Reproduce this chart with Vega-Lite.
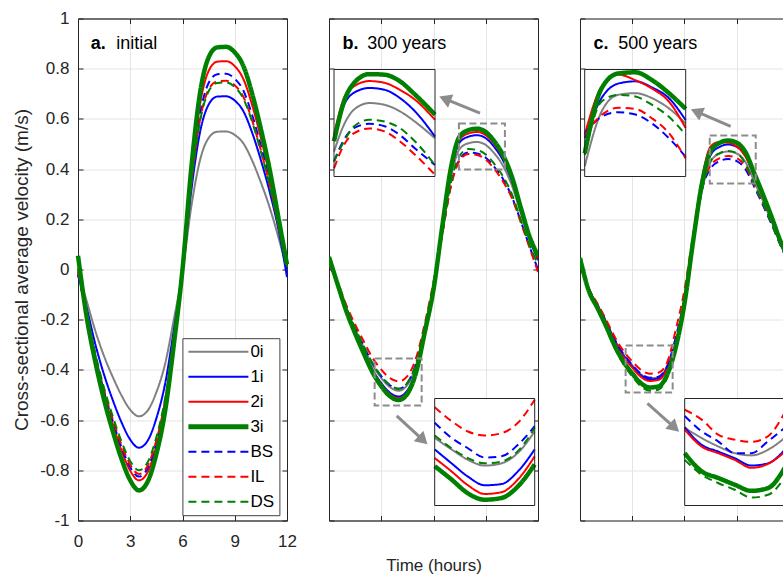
{
"$schema":"https://vega.github.io/schema/vega-lite/v6.json",
"background":"white",
"padding":{"left":12,"top":8.5,"right":0,"bottom":0},
"datasets":{
"curves":[
{"p":"a","t":0,"0i":-0.01,"1i":-0.02,"2i":0.005,"3i":0.055,"BS":-0.02,"IL":-0.01,"DS":0},
{"p":"a","t":0.5,"0i":-0.126,"1i":-0.153,"2i":-0.181,"3i":-0.19,"BS":-0.178,"IL":-0.176,"DS":-0.173},
{"p":"a","t":1,"0i":-0.246,"1i":-0.299,"2i":-0.353,"3i":-0.37,"BS":-0.347,"IL":-0.343,"DS":-0.336},
{"p":"a","t":1.5,"0i":-0.346,"1i":-0.42,"2i":-0.497,"3i":-0.52,"BS":-0.488,"IL":-0.482,"DS":-0.473},
{"p":"a","t":2,"0i":-0.429,"1i":-0.521,"2i":-0.616,"3i":-0.645,"BS":-0.605,"IL":-0.597,"DS":-0.586},
{"p":"a","t":2.5,"0i":-0.502,"1i":-0.609,"2i":-0.721,"3i":-0.755,"BS":-0.708,"IL":-0.699,"DS":-0.686},
{"p":"a","t":3,"0i":-0.559,"1i":-0.678,"2i":-0.802,"3i":-0.84,"BS":-0.788,"IL":-0.778,"DS":-0.764},
{"p":"a","t":3.5,"0i":-0.585,"1i":-0.71,"2i":-0.84,"3i":-0.88,"BS":-0.825,"IL":-0.815,"DS":-0.8},
{"p":"a","t":4,"0i":-0.562,"1i":-0.682,"2i":-0.807,"3i":-0.845,"BS":-0.792,"IL":-0.782,"DS":-0.768},
{"p":"a","t":4.5,"0i":-0.489,"1i":-0.593,"2i":-0.702,"3i":-0.735,"BS":-0.689,"IL":-0.681,"DS":-0.668},
{"p":"a","t":5,"0i":-0.376,"1i":-0.456,"2i":-0.54,"3i":-0.565,"BS":-0.53,"IL":-0.523,"DS":-0.514},
{"p":"a","t":5.5,"0i":-0.2,"1i":-0.242,"2i":-0.287,"3i":-0.3,"BS":-0.281,"IL":-0.278,"DS":-0.273},
{"p":"a","t":6,"0i":-0.01,"1i":-0.01,"2i":0,"3i":0,"BS":0,"IL":0,"DS":0},
{"p":"a","t":6.5,"0i":0.248,"1i":0.311,"2i":0.374,"3i":0.4,"BS":0.352,"IL":0.339,"DS":0.336},
{"p":"a","t":7,"0i":0.434,"1i":0.545,"2i":0.655,"3i":0.7,"BS":0.615,"IL":0.594,"DS":0.588},
{"p":"a","t":7.5,"0i":0.524,"1i":0.657,"2i":0.791,"3i":0.845,"BS":0.743,"IL":0.717,"DS":0.71},
{"p":"a","t":8,"0i":0.549,"1i":0.689,"2i":0.828,"3i":0.885,"BS":0.778,"IL":0.75,"DS":0.743},
{"p":"a","t":8.5,"0i":0.55,"1i":0.69,"2i":0.83,"3i":0.887,"BS":0.78,"IL":0.752,"DS":0.745},
{"p":"a","t":9,"0i":0.536,"1i":0.673,"2i":0.81,"3i":0.865,"BS":0.76,"IL":0.734,"DS":0.727},
{"p":"a","t":9.5,"0i":0.502,"1i":0.63,"2i":0.758,"3i":0.81,"BS":0.712,"IL":0.687,"DS":0.68},
{"p":"a","t":10,"0i":0.434,"1i":0.545,"2i":0.655,"3i":0.7,"BS":0.615,"IL":0.594,"DS":0.588},
{"p":"a","t":10.5,"0i":0.347,"1i":0.436,"2i":0.524,"3i":0.56,"BS":0.492,"IL":0.475,"DS":0.47},
{"p":"a","t":11,"0i":0.248,"1i":0.311,"2i":0.374,"3i":0.4,"BS":0.352,"IL":0.339,"DS":0.336},
{"p":"a","t":11.5,"0i":0.13,"1i":0.163,"2i":0.197,"3i":0.21,"BS":0.185,"IL":0.178,"DS":0.176},
{"p":"a","t":12,"0i":0,"1i":-0.03,"2i":0.02,"3i":0.02,"BS":0,"IL":0.01,"DS":0.01},
{"p":"b","t":0,"0i":0.03,"1i":0.03,"2i":0.04,"3i":0.05,"BS":0.02,"IL":0.02,"DS":0.03},
{"p":"b","t":0.5,"0i":-0.056,"1i":-0.058,"2i":-0.059,"3i":-0.06,"BS":-0.055,"IL":-0.051,"DS":-0.055},
{"p":"b","t":1,"0i":-0.155,"1i":-0.162,"2i":-0.164,"3i":-0.167,"BS":-0.152,"IL":-0.143,"DS":-0.152},
{"p":"b","t":1.5,"0i":-0.237,"1i":-0.248,"2i":-0.251,"3i":-0.255,"BS":-0.233,"IL":-0.219,"DS":-0.233},
{"p":"b","t":2,"0i":-0.311,"1i":-0.326,"2i":-0.33,"3i":-0.335,"BS":-0.306,"IL":-0.287,"DS":-0.306},
{"p":"b","t":2.5,"0i":-0.381,"1i":-0.399,"2i":-0.404,"3i":-0.41,"BS":-0.374,"IL":-0.352,"DS":-0.374},
{"p":"b","t":3,"0i":-0.432,"1i":-0.452,"2i":-0.458,"3i":-0.465,"BS":-0.425,"IL":-0.399,"DS":-0.425},
{"p":"b","t":3.5,"0i":-0.469,"1i":-0.491,"2i":-0.497,"3i":-0.505,"BS":-0.461,"IL":-0.433,"DS":-0.461},
{"p":"b","t":4,"0i":-0.483,"1i":-0.506,"2i":-0.512,"3i":-0.52,"BS":-0.475,"IL":-0.446,"DS":-0.475},
{"p":"b","t":4.5,"0i":-0.46,"1i":-0.482,"2i":-0.488,"3i":-0.495,"BS":-0.452,"IL":-0.425,"DS":-0.452},
{"p":"b","t":5,"0i":-0.381,"1i":-0.399,"2i":-0.404,"3i":-0.41,"BS":-0.374,"IL":-0.352,"DS":-0.374},
{"p":"b","t":5.5,"0i":-0.232,"1i":-0.243,"2i":-0.246,"3i":-0.25,"BS":-0.228,"IL":-0.215,"DS":-0.228},
{"p":"b","t":6,"0i":-0.074,"1i":-0.078,"2i":-0.079,"3i":-0.08,"BS":-0.06,"IL":-0.05,"DS":-0.06},
{"p":"b","t":6.5,"0i":0.154,"1i":0.162,"2i":0.166,"3i":0.17,"BS":0.141,"IL":0.139,"DS":0.145},
{"p":"b","t":7,"0i":0.367,"1i":0.386,"2i":0.396,"3i":0.405,"BS":0.336,"IL":0.331,"DS":0.346},
{"p":"b","t":7.5,"0i":0.48,"1i":0.506,"2i":0.518,"3i":0.53,"BS":0.439,"IL":0.434,"DS":0.453},
{"p":"b","t":8,"0i":0.503,"1i":0.529,"2i":0.542,"3i":0.555,"BS":0.466,"IL":0.46,"DS":0.48},
{"p":"b","t":8.5,"0i":0.508,"1i":0.535,"2i":0.548,"3i":0.561,"BS":0.462,"IL":0.456,"DS":0.476},
{"p":"b","t":9,"0i":0.496,"1i":0.523,"2i":0.535,"3i":0.548,"BS":0.445,"IL":0.438,"DS":0.458},
{"p":"b","t":9.5,"0i":0.462,"1i":0.487,"2i":0.498,"3i":0.51,"BS":0.408,"IL":0.4,"DS":0.42},
{"p":"b","t":10,"0i":0.412,"1i":0.434,"2i":0.445,"3i":0.455,"BS":0.36,"IL":0.35,"DS":0.37},
{"p":"b","t":10.5,"0i":0.335,"1i":0.353,"2i":0.361,"3i":0.37,"BS":0.29,"IL":0.285,"DS":0.3},
{"p":"b","t":11,"0i":0.227,"1i":0.239,"2i":0.244,"3i":0.25,"BS":0.195,"IL":0.19,"DS":0.2},
{"p":"b","t":11.5,"0i":0.122,"1i":0.129,"2i":0.132,"3i":0.135,"BS":0.095,"IL":0.09,"DS":0.1},
{"p":"b","t":12,"0i":0.035,"1i":0.04,"2i":0.045,"3i":0.055,"BS":0,"IL":-0.01,"DS":0.02},
{"p":"c","t":0,"0i":0.02,"1i":0.02,"2i":0.03,"3i":0.046,"BS":0.02,"IL":0.03,"DS":0.03},
{"p":"c","t":0.5,"0i":-0.077,"1i":-0.078,"2i":-0.079,"3i":-0.084,"BS":-0.077,"IL":-0.074,"DS":-0.086},
{"p":"c","t":1,"0i":-0.141,"1i":-0.143,"2i":-0.145,"3i":-0.153,"BS":-0.14,"IL":-0.135,"DS":-0.157},
{"p":"c","t":1.5,"0i":-0.208,"1i":-0.211,"2i":-0.214,"3i":-0.226,"BS":-0.207,"IL":-0.2,"DS":-0.232},
{"p":"c","t":2,"0i":-0.281,"1i":-0.284,"2i":-0.288,"3i":-0.305,"BS":-0.28,"IL":-0.269,"DS":-0.314},
{"p":"c","t":2.5,"0i":-0.339,"1i":-0.343,"2i":-0.348,"3i":-0.368,"BS":-0.337,"IL":-0.325,"DS":-0.378},
{"p":"c","t":3,"0i":-0.382,"1i":-0.386,"2i":-0.391,"3i":-0.414,"BS":-0.38,"IL":-0.366,"DS":-0.426},
{"p":"c","t":3.5,"0i":-0.418,"1i":-0.422,"2i":-0.428,"3i":-0.453,"BS":-0.415,"IL":-0.4,"DS":-0.466},
{"p":"c","t":4,"0i":-0.433,"1i":-0.438,"2i":-0.444,"3i":-0.47,"BS":-0.431,"IL":-0.415,"DS":-0.483},
{"p":"c","t":4.5,"0i":-0.43,"1i":-0.434,"2i":-0.44,"3i":-0.466,"BS":-0.427,"IL":-0.411,"DS":-0.479},
{"p":"c","t":5,"0i":-0.387,"1i":-0.391,"2i":-0.397,"3i":-0.42,"BS":-0.385,"IL":-0.371,"DS":-0.432},
{"p":"c","t":5.5,"0i":-0.286,"1i":-0.289,"2i":-0.293,"3i":-0.31,"BS":-0.27,"IL":-0.24,"DS":-0.319},
{"p":"c","t":6,"0i":-0.124,"1i":-0.126,"2i":-0.128,"3i":-0.135,"BS":-0.11,"IL":-0.08,"DS":-0.139},
{"p":"c","t":6.5,"0i":0.105,"1i":0.111,"2i":0.135,"3i":0.115,"BS":0.13,"IL":0.14,"DS":0.106},
{"p":"c","t":7,"0i":0.313,"1i":0.331,"2i":0.36,"3i":0.342,"BS":0.32,"IL":0.33,"DS":0.314},
{"p":"c","t":7.5,"0i":0.43,"1i":0.456,"2i":0.49,"3i":0.471,"BS":0.403,"IL":0.414,"DS":0.432},
{"p":"c","t":8,"0i":0.461,"1i":0.488,"2i":0.508,"3i":0.504,"BS":0.431,"IL":0.443,"DS":0.463},
{"p":"c","t":8.5,"0i":0.47,"1i":0.498,"2i":0.505,"3i":0.514,"BS":0.44,"IL":0.452,"DS":0.472},
{"p":"c","t":9,"0i":0.462,"1i":0.489,"2i":0.49,"3i":0.505,"BS":0.432,"IL":0.444,"DS":0.464},
{"p":"c","t":9.5,"0i":0.428,"1i":0.453,"2i":0.45,"3i":0.468,"BS":0.4,"IL":0.411,"DS":0.42},
{"p":"c","t":10,"0i":0.352,"1i":0.373,"2i":0.375,"3i":0.385,"BS":0.33,"IL":0.338,"DS":0.34},
{"p":"c","t":10.5,"0i":0.274,"1i":0.291,"2i":0.29,"3i":0.3,"BS":0.257,"IL":0.264,"DS":0.265},
{"p":"c","t":11,"0i":0.192,"1i":0.203,"2i":0.205,"3i":0.21,"BS":0.18,"IL":0.185,"DS":0.185},
{"p":"c","t":11.5,"0i":0.105,"1i":0.111,"2i":0.11,"3i":0.115,"BS":0.098,"IL":0.101,"DS":0.1},
{"p":"c","t":12,"0i":0.03,"1i":0.035,"2i":0.03,"3i":0.04,"BS":0.02,"IL":0.025,"DS":0.03}
],
"insets":[
{"i":"bU","t":7.5,"0i":0.443,"1i":0.466,"2i":0.472,"3i":0.461,"BS":0.426,"IL":0.414,"DS":0.426},
{"i":"bU","t":7.75,"0i":0.49,"1i":0.524,"2i":0.536,"3i":0.53,"BS":0.464,"IL":0.455,"DS":0.461},
{"i":"bU","t":8,"0i":0.516,"1i":0.545,"2i":0.556,"3i":0.562,"BS":0.484,"IL":0.475,"DS":0.487},
{"i":"bU","t":8.375,"0i":0.527,"1i":0.553,"2i":0.565,"3i":0.577,"BS":0.491,"IL":0.483,"DS":0.498},
{"i":"bU","t":8.75,"0i":0.524,"1i":0.55,"2i":0.562,"3i":0.576,"BS":0.487,"IL":0.478,"DS":0.495},
{"i":"bU","t":9.125,"0i":0.513,"1i":0.536,"2i":0.55,"3i":0.565,"BS":0.472,"IL":0.461,"DS":0.484},
{"i":"bU","t":9.5,"0i":0.495,"1i":0.513,"2i":0.533,"3i":0.542,"BS":0.449,"IL":0.438,"DS":0.461},
{"i":"bU","t":10,"0i":0.466,"1i":0.469,"2i":0.498,"3i":0.507,"BS":0.42,"IL":0.403,"DS":0.42},
{"i":"bL","t":2.6,"0i":-0.423,"1i":-0.443,"2i":-0.458,"3i":-0.472,"BS":-0.397,"IL":-0.37,"DS":-0.419},
{"i":"bL","t":3.07,"0i":-0.443,"1i":-0.467,"2i":-0.481,"3i":-0.495,"BS":-0.423,"IL":-0.394,"DS":-0.441},
{"i":"bL","t":3.53,"0i":-0.461,"1i":-0.49,"2i":-0.505,"3i":-0.519,"BS":-0.441,"IL":-0.412,"DS":-0.458},
{"i":"bL","t":4,"0i":-0.471,"1i":-0.505,"2i":-0.52,"3i":-0.53,"BS":-0.457,"IL":-0.419,"DS":-0.467},
{"i":"bL","t":4.47,"0i":-0.467,"1i":-0.503,"2i":-0.517,"3i":-0.527,"BS":-0.455,"IL":-0.415,"DS":-0.464},
{"i":"bL","t":4.93,"0i":-0.449,"1i":-0.481,"2i":-0.495,"3i":-0.507,"BS":-0.435,"IL":-0.397,"DS":-0.446},
{"i":"bL","t":5.4,"0i":-0.412,"1i":-0.443,"2i":-0.455,"3i":-0.469,"BS":-0.403,"IL":-0.357,"DS":-0.406},
{"i":"cU","t":7.45,"0i":0.363,"1i":0.413,"2i":0.419,"3i":0.386,"BS":0.422,"IL":0.419,"DS":0.383},
{"i":"cU","t":7.89,"0i":0.46,"1i":0.484,"2i":0.504,"3i":0.501,"BS":0.451,"IL":0.454,"DS":0.478},
{"i":"cU","t":8.33,"0i":0.49,"1i":0.51,"2i":0.526,"3i":0.528,"BS":0.459,"IL":0.467,"DS":0.49},
{"i":"cU","t":8.78,"0i":0.493,"1i":0.514,"2i":0.516,"3i":0.53,"BS":0.455,"IL":0.465,"DS":0.487},
{"i":"cU","t":9.22,"0i":0.484,"1i":0.503,"2i":0.501,"3i":0.516,"BS":0.439,"IL":0.448,"DS":0.472},
{"i":"cU","t":9.66,"0i":0.466,"1i":0.484,"2i":0.478,"3i":0.493,"BS":0.413,"IL":0.422,"DS":0.451},
{"i":"cU","t":10.1,"0i":0.439,"1i":0.445,"2i":0.431,"3i":0.465,"BS":0.38,"IL":0.377,"DS":0.419},
{"i":"cL","t":2.6,"0i":-0.352,"1i":-0.351,"2i":-0.355,"3i":-0.397,"BS":-0.331,"IL":-0.32,"DS":-0.409},
{"i":"cL","t":3.05,"0i":-0.37,"1i":-0.382,"2i":-0.385,"3i":-0.429,"BS":-0.358,"IL":-0.337,"DS":-0.435},
{"i":"cL","t":3.5,"0i":-0.385,"1i":-0.394,"2i":-0.397,"3i":-0.441,"BS":-0.376,"IL":-0.364,"DS":-0.45},
{"i":"cL","t":3.95,"0i":-0.397,"1i":-0.406,"2i":-0.409,"3i":-0.453,"BS":-0.397,"IL":-0.373,"DS":-0.462},
{"i":"cL","t":4.4,"0i":-0.401,"1i":-0.419,"2i":-0.423,"3i":-0.464,"BS":-0.397,"IL":-0.377,"DS":-0.476},
{"i":"cL","t":4.85,"0i":-0.391,"1i":-0.415,"2i":-0.416,"3i":-0.459,"BS":-0.376,"IL":-0.367,"DS":-0.471},
{"i":"cL","t":5.3,"0i":-0.37,"1i":-0.391,"2i":-0.395,"3i":-0.423,"BS":-0.352,"IL":-0.325,"DS":-0.441}
]
},
"spacing":42,
"bounds":"flush",
"resolve":{"scale":{"color":"independent","strokeDash":"independent"},"legend":{"color":"independent","strokeDash":"independent"}},
"hconcat":[
{
 "width":209,"height":502,
 "resolve":{"axis":{"x":"independent","y":"independent"}},
 "layer":[
  {"data":{"name":"curves"},"transform":[{"filter":"datum.p==='a'"},{"fold":["0i","1i","2i","BS","IL","DS","3i"],"as":["s","v"]}],
   "mark":{"type":"line","interpolate":"monotone"},
   "encoding":{
    "x":{"field":"t","type":"quantitative","scale":{"domain":[0,12],"nice":false,"zero":false},"axis":{"values":[0,3,6,9,12],"title":null,"grid":true}},
    "y":{"field":"v","type":"quantitative","scale":{"domain":[-1,1],"nice":false,"zero":false},"axis":{"values":[-1,-0.8,-0.6,-0.4,-0.2,0,0.2,0.4,0.6,0.8,1],"labelExpr":"toString(round(datum.value*10)/10)","title":"Cross-sectional average velocity (m/s)","titleFontSize":19,"grid":true}},
    "color":{"field":"s","type":"nominal","scale":{"domain":["0i","1i","2i","3i","BS","IL","DS"],"range":["#808080","#0000ff","#ff0000","#008000","#0000ff","#ff0000","#008000"]},
      "legend":{"title":null,"orient":"none","legendX":104.4,"legendY":319.7,"symbolType":"stroke","symbolSize":3600,"clipHeight":17,"rowPadding":7,"padding":5,"labelOffset":1,"labelFontSize":17,"labelColor":"#000000","fillColor":"#ffffff","strokeColor":"#404040","symbolStrokeWidth":{"expr":"(datum.value === '3i' ? 5 : 2)"}}},
    "strokeDash":{"field":"s","type":"nominal","scale":{"domain":["0i","1i","2i","3i","BS","IL","DS"],"range":[[1,0],[1,0],[1,0],[1,0],[8,5],[8,5],[8,5]]},
      "legend":{"title":null,"orient":"none","legendX":104.4,"legendY":319.7,"symbolType":"stroke","symbolSize":3600,"clipHeight":17,"rowPadding":7,"padding":5,"labelOffset":1,"labelFontSize":17,"labelColor":"#000000","fillColor":"#ffffff","strokeColor":"#404040","symbolStrokeWidth":{"expr":"(datum.value === '3i' ? 5 : 2)"}}},
    "strokeWidth":{"condition":{"test":"datum.s==='3i'","value":4.5},"value":2}
   }},
  {"data":{"values":[{}]},"mark":{"type":"text","text":"a.","fontWeight":"bold","fontSize":18,"align":"left","baseline":"alphabetic","color":"#000000"},
   "encoding":{"x":{"datum":0.73,"type":"quantitative","scale":{"domain":[0,12],"nice":false,"zero":false},"axis":{"orient":"top","values":[0,3,6,9,12],"labels":false,"grid":false,"title":null}},
               "y":{"datum":0.8765,"type":"quantitative","scale":{"domain":[-1,1],"nice":false,"zero":false},"axis":{"orient":"right","values":[-1,-0.8,-0.6,-0.4,-0.2,0,0.2,0.4,0.6,0.8,1],"labels":false,"grid":false,"title":null}}}},
  {"data":{"values":[{}]},"mark":{"type":"text","text":"initial","fontSize":18,"align":"left","baseline":"alphabetic","color":"#000000"},
   "encoding":{"x":{"datum":2.2,"type":"quantitative","scale":{"domain":[0,12],"nice":false,"zero":false},"axis":null},
               "y":{"datum":0.8765,"type":"quantitative","scale":{"domain":[-1,1],"nice":false,"zero":false},"axis":null}}}
 ]
},
{
 "width":209,"height":502,
 "resolve":{"scale":{"x":"independent","y":"independent"}},
 "layer":[
  {
   "resolve":{"axis":{"x":"independent","y":"independent"}},
   "layer":[
    {"data":{"name":"curves"},"transform":[{"filter":"datum.p==='b'"},{"fold":["0i","1i","2i","BS","IL","DS","3i"],"as":["s","v"]}],
     "mark":{"type":"line","interpolate":"monotone","clip":true},
     "encoding":{
      "x":{"field":"t","type":"quantitative","scale":{"domain":[0,12],"nice":false,"zero":false},"axis":{"values":[0,3,6,9,12],"labels":false,"title":"Time (hours)","grid":true}},
      "y":{"field":"v","type":"quantitative","scale":{"domain":[-1,1],"nice":false,"zero":false},"axis":{"values":[-1,-0.8,-0.6,-0.4,-0.2,0,0.2,0.4,0.6,0.8,1],"labels":false,"title":null,"grid":true}},
      "color":{"field":"s","type":"nominal","scale":{"domain":["0i","1i","2i","3i","BS","IL","DS"],"range":["#808080","#0000ff","#ff0000","#008000","#0000ff","#ff0000","#008000"]},"legend":null},
      "strokeDash":{"field":"s","type":"nominal","scale":{"domain":["0i","1i","2i","3i","BS","IL","DS"],"range":[[1,0],[1,0],[1,0],[1,0],[8,5],[8,5],[8,5]]},"legend":null},
      "strokeWidth":{"condition":{"test":"datum.s==='3i'","value":4.5},"value":2}
     }},
    {"data":{"values":[{}]},"mark":{"type":"rect","filled":false,"color":"#8c8c8c","strokeWidth":2,"strokeDash":[7,3.5]},
     "encoding":{"x":{"datum":7.46,"type":"quantitative","scale":{"domain":[0,12],"nice":false,"zero":false},"axis":null},"x2":{"datum":10.1},
                 "y":{"datum":0.398,"type":"quantitative","scale":{"domain":[-1,1],"nice":false,"zero":false},"axis":null},"y2":{"datum":0.582}}},
    {"data":{"values":[{}]},"mark":{"type":"rect","filled":false,"color":"#8c8c8c","strokeWidth":2,"strokeDash":[7,3.5]},
     "encoding":{"x":{"datum":2.62,"type":"quantitative","scale":{"domain":[0,12],"nice":false,"zero":false},"axis":null},"x2":{"datum":5.32},
                 "y":{"datum":-0.542,"type":"quantitative","scale":{"domain":[-1,1],"nice":false,"zero":false},"axis":null},"y2":{"datum":-0.355}}},
    {"data":{"values":[{}]},"mark":{"type":"rule","color":"#8c8c8c","strokeWidth":3},
     "encoding":{"x":{"datum":8.67,"type":"quantitative","scale":{"domain":[0,12],"nice":false,"zero":false},"axis":null},"x2":{"datum":6.66},
                 "y":{"datum":0.623,"type":"quantitative","scale":{"domain":[-1,1],"nice":false,"zero":false},"axis":null},"y2":{"datum":0.68}}},
    {"data":{"values":[{}]},"mark":{"type":"point","shape":"triangle-up","filled":true,"color":"#8c8c8c","size":200,"angle":292,"opacity":1},
     "encoding":{"x":{"datum":6.66,"type":"quantitative","scale":{"domain":[0,12],"nice":false,"zero":false},"axis":null},
                 "y":{"datum":0.68,"type":"quantitative","scale":{"domain":[-1,1],"nice":false,"zero":false},"axis":null}}},
    {"data":{"values":[{}]},"mark":{"type":"rule","color":"#8c8c8c","strokeWidth":3},
     "encoding":{"x":{"datum":3.89,"type":"quantitative","scale":{"domain":[0,12],"nice":false,"zero":false},"axis":null},"x2":{"datum":5.4},
                 "y":{"datum":-0.583,"type":"quantitative","scale":{"domain":[-1,1],"nice":false,"zero":false},"axis":null},"y2":{"datum":-0.68}}},
    {"data":{"values":[{}]},"mark":{"type":"point","shape":"triangle-up","filled":true,"color":"#8c8c8c","size":200,"angle":133,"opacity":1},
     "encoding":{"x":{"datum":5.4,"type":"quantitative","scale":{"domain":[0,12],"nice":false,"zero":false},"axis":null},
                 "y":{"datum":-0.68,"type":"quantitative","scale":{"domain":[-1,1],"nice":false,"zero":false},"axis":null}}},
    {"data":{"values":[{}]},"mark":{"type":"text","text":"b.","fontWeight":"bold","fontSize":18,"align":"left","baseline":"alphabetic","color":"#000000"},
     "encoding":{"x":{"datum":0.77,"type":"quantitative","scale":{"domain":[0,12],"nice":false,"zero":false},"axis":{"orient":"top","values":[0,3,6,9,12],"labels":false,"grid":false,"title":null}},
                 "y":{"datum":0.8765,"type":"quantitative","scale":{"domain":[-1,1],"nice":false,"zero":false},"axis":{"orient":"right","values":[-1,-0.8,-0.6,-0.4,-0.2,0,0.2,0.4,0.6,0.8,1],"labels":false,"grid":false,"title":null}}}},
    {"data":{"values":[{}]},"mark":{"type":"text","text":"300 years","fontSize":18,"align":"left","baseline":"alphabetic","color":"#000000"},
     "encoding":{"x":{"datum":2.2,"type":"quantitative","scale":{"domain":[0,12],"nice":false,"zero":false},"axis":null},
                 "y":{"datum":0.8765,"type":"quantitative","scale":{"domain":[-1,1],"nice":false,"zero":false},"axis":null}}}
   ]
  },
  {
   "layer":[
    {"data":{"values":[{}]},"mark":{"type":"rect","color":"#ffffff"},
     "encoding":{"x":{"datum":7.5,"type":"quantitative","scale":{"domain":[7.5,10],"range":[5,106],"nice":false,"zero":false,"clamp":true},"axis":null},"x2":{"datum":10},
                 "y":{"datum":0.4,"type":"quantitative","scale":{"domain":[0.4,0.585],"range":[158,51],"nice":false,"zero":false,"clamp":true},"axis":null},"y2":{"datum":0.585}}},
    {"data":{"name":"insets"},"transform":[{"filter":"datum.i==='bU'"},{"fold":["0i","1i","2i","BS","IL","DS","3i"],"as":["s","v"]}],
     "mark":{"type":"line","interpolate":"monotone"},
     "encoding":{
      "x":{"field":"t","type":"quantitative","scale":{"domain":[7.5,10],"range":[5,106],"nice":false,"zero":false,"clamp":true},"axis":null},
      "y":{"field":"v","type":"quantitative","scale":{"domain":[0.4,0.585],"range":[158,51],"nice":false,"zero":false,"clamp":true},"axis":null},
      "color":{"field":"s","type":"nominal","scale":{"domain":["0i","1i","2i","3i","BS","IL","DS"],"range":["#808080","#0000ff","#ff0000","#008000","#0000ff","#ff0000","#008000"]},"legend":null},
      "strokeDash":{"field":"s","type":"nominal","scale":{"domain":["0i","1i","2i","3i","BS","IL","DS"],"range":[[1,0],[1,0],[1,0],[1,0],[8,5],[8,5],[8,5]]},"legend":null},
      "strokeWidth":{"condition":{"test":"datum.s==='3i'","value":4.5},"value":2}
     }},
    {"data":{"values":[{}]},"mark":{"type":"rect","filled":false,"color":"#262626","strokeWidth":1},
     "encoding":{"x":{"datum":7.5,"type":"quantitative","scale":{"domain":[7.5,10],"range":[5,106],"nice":false,"zero":false,"clamp":true},"axis":null},"x2":{"datum":10},
                 "y":{"datum":0.4,"type":"quantitative","scale":{"domain":[0.4,0.585],"range":[158,51],"nice":false,"zero":false,"clamp":true},"axis":null},"y2":{"datum":0.585}}}
   ]
  },
  {
   "layer":[
    {"data":{"values":[{}]},"mark":{"type":"rect","color":"#ffffff"},
     "encoding":{"x":{"datum":2.6,"type":"quantitative","scale":{"domain":[2.6,5.4],"range":[105.7,205.7],"nice":false,"zero":false,"clamp":true},"axis":null},"x2":{"datum":5.4},
                 "y":{"datum":-0.54,"type":"quantitative","scale":{"domain":[-0.54,-0.355],"range":[487,380],"nice":false,"zero":false,"clamp":true},"axis":null},"y2":{"datum":-0.355}}},
    {"data":{"name":"insets"},"transform":[{"filter":"datum.i==='bL'"},{"fold":["0i","1i","2i","BS","IL","DS","3i"],"as":["s","v"]}],
     "mark":{"type":"line","interpolate":"monotone"},
     "encoding":{
      "x":{"field":"t","type":"quantitative","scale":{"domain":[2.6,5.4],"range":[105.7,205.7],"nice":false,"zero":false,"clamp":true},"axis":null},
      "y":{"field":"v","type":"quantitative","scale":{"domain":[-0.54,-0.355],"range":[487,380],"nice":false,"zero":false,"clamp":true},"axis":null},
      "color":{"field":"s","type":"nominal","scale":{"domain":["0i","1i","2i","3i","BS","IL","DS"],"range":["#808080","#0000ff","#ff0000","#008000","#0000ff","#ff0000","#008000"]},"legend":null},
      "strokeDash":{"field":"s","type":"nominal","scale":{"domain":["0i","1i","2i","3i","BS","IL","DS"],"range":[[1,0],[1,0],[1,0],[1,0],[8,5],[8,5],[8,5]]},"legend":null},
      "strokeWidth":{"condition":{"test":"datum.s==='3i'","value":4.5},"value":2}
     }},
    {"data":{"values":[{}]},"mark":{"type":"rect","filled":false,"color":"#262626","strokeWidth":1},
     "encoding":{"x":{"datum":2.6,"type":"quantitative","scale":{"domain":[2.6,5.4],"range":[105.7,205.7],"nice":false,"zero":false,"clamp":true},"axis":null},"x2":{"datum":5.4},
                 "y":{"datum":-0.54,"type":"quantitative","scale":{"domain":[-0.54,-0.355],"range":[487,380],"nice":false,"zero":false,"clamp":true},"axis":null},"y2":{"datum":-0.355}}}
   ]
  }
 ]
},
{
 "width":203,"height":502,
 "view":{"stroke":null},
 "resolve":{"scale":{"x":"independent","y":"independent"}},
 "layer":[
  {
   "resolve":{"axis":{"x":"independent","y":"independent"}},
   "layer":[
    {"data":{"name":"curves"},"transform":[{"filter":"datum.p==='c'"},{"fold":["0i","1i","2i","BS","IL","DS","3i"],"as":["s","v"]}],
     "mark":{"type":"line","interpolate":"monotone","clip":true},
     "encoding":{
      "x":{"field":"t","type":"quantitative","scale":{"domain":[0,11.656],"nice":false,"zero":false},"axis":{"values":[0,3,6,9],"labels":false,"title":null,"grid":true}},
      "y":{"field":"v","type":"quantitative","scale":{"domain":[-1,1],"nice":false,"zero":false},"axis":{"values":[-1,-0.8,-0.6,-0.4,-0.2,0,0.2,0.4,0.6,0.8,1],"labels":false,"title":null,"grid":true}},
      "color":{"field":"s","type":"nominal","scale":{"domain":["0i","1i","2i","3i","BS","IL","DS"],"range":["#808080","#0000ff","#ff0000","#008000","#0000ff","#ff0000","#008000"]},"legend":null},
      "strokeDash":{"field":"s","type":"nominal","scale":{"domain":["0i","1i","2i","3i","BS","IL","DS"],"range":[[1,0],[1,0],[1,0],[1,0],[8,5],[8,5],[8,5]]},"legend":null},
      "strokeWidth":{"condition":{"test":"datum.s==='3i'","value":4.5},"value":2}
     }},
    {"data":{"values":[{}]},"mark":{"type":"rect","filled":false,"color":"#8c8c8c","strokeWidth":2,"strokeDash":[7,3.5]},
     "encoding":{"x":{"datum":7.45,"type":"quantitative","scale":{"domain":[0,11.656],"nice":false,"zero":false},"axis":null},"x2":{"datum":10.09},
                 "y":{"datum":0.343,"type":"quantitative","scale":{"domain":[-1,1],"nice":false,"zero":false},"axis":null},"y2":{"datum":0.534}}},
    {"data":{"values":[{}]},"mark":{"type":"rect","filled":false,"color":"#8c8c8c","strokeWidth":2,"strokeDash":[7,3.5]},
     "encoding":{"x":{"datum":2.62,"type":"quantitative","scale":{"domain":[0,11.656],"nice":false,"zero":false},"axis":null},"x2":{"datum":5.32},
                 "y":{"datum":-0.49,"type":"quantitative","scale":{"domain":[-1,1],"nice":false,"zero":false},"axis":null},"y2":{"datum":-0.303}}},
    {"data":{"values":[{}]},"mark":{"type":"rule","color":"#8c8c8c","strokeWidth":3},
     "encoding":{"x":{"datum":8.65,"type":"quantitative","scale":{"domain":[0,11.656],"nice":false,"zero":false},"axis":null},"x2":{"datum":6.69},
                 "y":{"datum":0.57,"type":"quantitative","scale":{"domain":[-1,1],"nice":false,"zero":false},"axis":null},"y2":{"datum":0.629}}},
    {"data":{"values":[{}]},"mark":{"type":"point","shape":"triangle-up","filled":true,"color":"#8c8c8c","size":200,"angle":294,"opacity":1},
     "encoding":{"x":{"datum":6.69,"type":"quantitative","scale":{"domain":[0,11.656],"nice":false,"zero":false},"axis":null},
                 "y":{"datum":0.629,"type":"quantitative","scale":{"domain":[-1,1],"nice":false,"zero":false},"axis":null}}},
    {"data":{"values":[{}]},"mark":{"type":"rule","color":"#8c8c8c","strokeWidth":3},
     "encoding":{"x":{"datum":3.87,"type":"quantitative","scale":{"domain":[0,11.656],"nice":false,"zero":false},"axis":null},"x2":{"datum":5.43},
                 "y":{"datum":-0.533,"type":"quantitative","scale":{"domain":[-1,1],"nice":false,"zero":false},"axis":null},"y2":{"datum":-0.63}}},
    {"data":{"values":[{}]},"mark":{"type":"point","shape":"triangle-up","filled":true,"color":"#8c8c8c","size":200,"angle":132,"opacity":1},
     "encoding":{"x":{"datum":5.43,"type":"quantitative","scale":{"domain":[0,11.656],"nice":false,"zero":false},"axis":null},
                 "y":{"datum":-0.63,"type":"quantitative","scale":{"domain":[-1,1],"nice":false,"zero":false},"axis":null}}},
    {"data":{"values":[{}]},"mark":{"type":"text","text":"c.","fontWeight":"bold","fontSize":18,"align":"left","baseline":"alphabetic","color":"#000000"},
     "encoding":{"x":{"datum":0.77,"type":"quantitative","scale":{"domain":[0,11.656],"nice":false,"zero":false},"axis":{"orient":"top","values":[0,3,6,9],"labels":false,"grid":false,"title":null}},
                 "y":{"datum":0.8765,"type":"quantitative","scale":{"domain":[-1,1],"nice":false,"zero":false},"axis":null}}},
    {"data":{"values":[{}]},"mark":{"type":"text","text":"500 years","fontSize":18,"align":"left","baseline":"alphabetic","color":"#000000"},
     "encoding":{"x":{"datum":2.2,"type":"quantitative","scale":{"domain":[0,11.656],"nice":false,"zero":false},"axis":null},
                 "y":{"datum":0.8765,"type":"quantitative","scale":{"domain":[-1,1],"nice":false,"zero":false},"axis":null}}}
   ]
  },
  {
   "layer":[
    {"data":{"values":[{}]},"mark":{"type":"rect","color":"#ffffff"},
     "encoding":{"x":{"datum":7.45,"type":"quantitative","scale":{"domain":[7.45,10.1],"range":[4.7,105.7],"nice":false,"zero":false,"clamp":true},"axis":null},"x2":{"datum":10.1},
                 "y":{"datum":0.345,"type":"quantitative","scale":{"domain":[0.345,0.535],"range":[158,51],"nice":false,"zero":false,"clamp":true},"axis":null},"y2":{"datum":0.535}}},
    {"data":{"name":"insets"},"transform":[{"filter":"datum.i==='cU'"},{"fold":["0i","1i","2i","BS","IL","DS","3i"],"as":["s","v"]}],
     "mark":{"type":"line","interpolate":"monotone"},
     "encoding":{
      "x":{"field":"t","type":"quantitative","scale":{"domain":[7.45,10.1],"range":[4.7,105.7],"nice":false,"zero":false,"clamp":true},"axis":null},
      "y":{"field":"v","type":"quantitative","scale":{"domain":[0.345,0.535],"range":[158,51],"nice":false,"zero":false,"clamp":true},"axis":null},
      "color":{"field":"s","type":"nominal","scale":{"domain":["0i","1i","2i","3i","BS","IL","DS"],"range":["#808080","#0000ff","#ff0000","#008000","#0000ff","#ff0000","#008000"]},"legend":null},
      "strokeDash":{"field":"s","type":"nominal","scale":{"domain":["0i","1i","2i","3i","BS","IL","DS"],"range":[[1,0],[1,0],[1,0],[1,0],[8,5],[8,5],[8,5]]},"legend":null},
      "strokeWidth":{"condition":{"test":"datum.s==='3i'","value":4.5},"value":2}
     }},
    {"data":{"values":[{}]},"mark":{"type":"rect","filled":false,"color":"#262626","strokeWidth":1},
     "encoding":{"x":{"datum":7.45,"type":"quantitative","scale":{"domain":[7.45,10.1],"range":[4.7,105.7],"nice":false,"zero":false,"clamp":true},"axis":null},"x2":{"datum":10.1},
                 "y":{"datum":0.345,"type":"quantitative","scale":{"domain":[0.345,0.535],"range":[158,51],"nice":false,"zero":false,"clamp":true},"axis":null},"y2":{"datum":0.535}}}
   ]
  },
  {
   "layer":[
    {"data":{"values":[{}]},"mark":{"type":"rect","color":"#ffffff","clip":true},
     "encoding":{"x":{"datum":2.6,"type":"quantitative","scale":{"domain":[2.6,5.3],"range":[104.7,204.7],"nice":false,"zero":false,"clamp":true},"axis":null},"x2":{"datum":5.3},
                 "y":{"datum":-0.49,"type":"quantitative","scale":{"domain":[-0.49,-0.3],"range":[487,380],"nice":false,"zero":false,"clamp":true},"axis":null},"y2":{"datum":-0.3}}},
    {"data":{"name":"insets"},"transform":[{"filter":"datum.i==='cL'"},{"fold":["0i","1i","2i","BS","IL","DS","3i"],"as":["s","v"]}],
     "mark":{"type":"line","interpolate":"monotone","clip":true},
     "encoding":{
      "x":{"field":"t","type":"quantitative","scale":{"domain":[2.6,5.3],"range":[104.7,204.7],"nice":false,"zero":false,"clamp":true},"axis":null},
      "y":{"field":"v","type":"quantitative","scale":{"domain":[-0.49,-0.3],"range":[487,380],"nice":false,"zero":false,"clamp":true},"axis":null},
      "color":{"field":"s","type":"nominal","scale":{"domain":["0i","1i","2i","3i","BS","IL","DS"],"range":["#808080","#0000ff","#ff0000","#008000","#0000ff","#ff0000","#008000"]},"legend":null},
      "strokeDash":{"field":"s","type":"nominal","scale":{"domain":["0i","1i","2i","3i","BS","IL","DS"],"range":[[1,0],[1,0],[1,0],[1,0],[8,5],[8,5],[8,5]]},"legend":null},
      "strokeWidth":{"condition":{"test":"datum.s==='3i'","value":4.5},"value":2}
     }},
    {"data":{"values":[{}]},"mark":{"type":"rect","filled":false,"color":"#262626","strokeWidth":1,"clip":true},
     "encoding":{"x":{"datum":2.6,"type":"quantitative","scale":{"domain":[2.6,5.3],"range":[104.7,204.7],"nice":false,"zero":false,"clamp":true},"axis":null},"x2":{"datum":5.3},
                 "y":{"datum":-0.49,"type":"quantitative","scale":{"domain":[-0.49,-0.3],"range":[487,380],"nice":false,"zero":false,"clamp":true},"axis":null},"y2":{"datum":-0.3}}}
   ]
  }
 ]
}
],
"config":{
 "font":"Liberation Sans",
 "view":{"stroke":"#262626","strokeWidth":1},
 "axis":{"domainColor":"#262626","domainWidth":1,"tickColor":"#262626","tickSize":-5,"tickWidth":1,"labelColor":"#262626","labelFont":"Liberation Sans","labelFontSize":17,"titleFont":"Liberation Sans","titleFontSize":17,"titleFontWeight":"normal","titleColor":"#262626","gridColor":"#e4e4e4","gridWidth":1,"labelFlush":false,"labelOverlap":false},
 "axisX":{"labelPadding":18,"titlePadding":36},
 "axisY":{"labelPadding":14,"titlePadding":8},
 "legend":{"labelFont":"Liberation Sans"},
 "text":{"font":"Liberation Sans"}
}
}
